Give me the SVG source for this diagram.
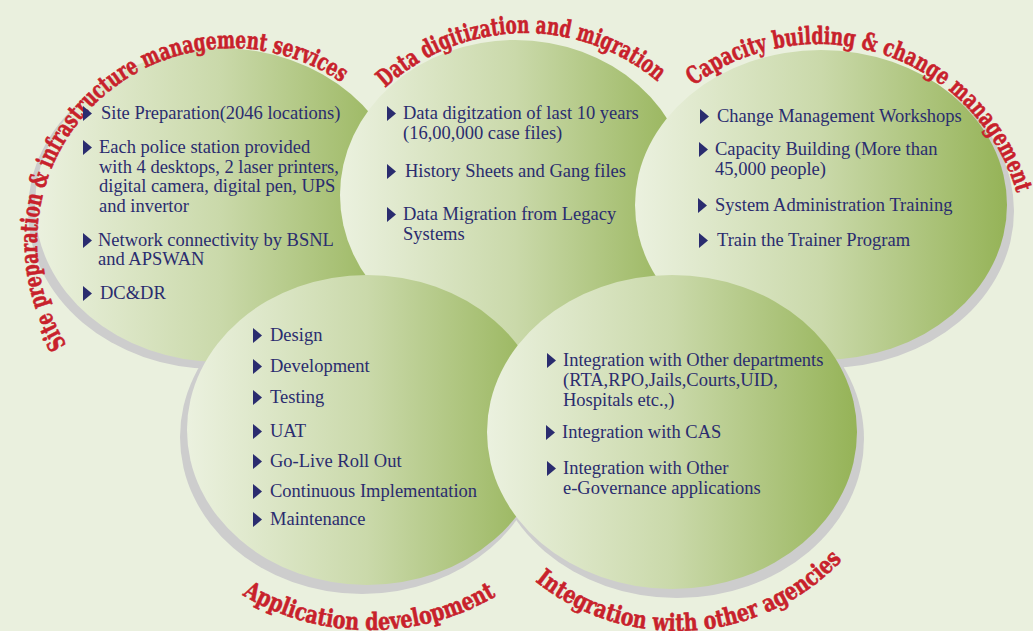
<svg xmlns="http://www.w3.org/2000/svg" width="1033" height="631" viewBox="0 0 1033 631">
<defs>
<linearGradient id="g" x1="0" y1="0" x2="1" y2="0">
<stop offset="0" stop-color="#ebf1df"/>
<stop offset="0.5" stop-color="#cad9aa"/>
<stop offset="1" stop-color="#95b357"/>
</linearGradient>
<path id="b" d="M0,0 L9,7.5 L0,15 Z"/>
<path id="p1" d="M66.5,344.8 A194,194 0 0 1 343.9,84.3"/>
<path id="p2" d="M385.2,88.1 A205,205 0 0 1 659.5,83.3"/>
<path id="p3" d="M693.4,85.7 A207,207 0 0 1 1017.4,195.3"/>
<path id="p4" d="M242.3,595 A250,250 0 0 0 497.7,595"/>
<path id="p5" d="M535.1,581.1 A227,227 0 0 0 843.4,558.6"/>
</defs>
<style>
.sh{fill:#cdcdcd}
.el{fill:url(#g)}
.t{font-family:"Liberation Serif","Times New Roman",serif;font-size:18.5px;fill:#2a2c6f}
.m{fill:#2a2c6f}
.h{font-family:"DejaVu Serif",serif;font-weight:bold;font-size:24px;fill:#c8212b;stroke:#c8212b;stroke-width:0.6}
</style>
<rect width="1033" height="631" fill="#eaf0de"/>
<g id="shadows">
<ellipse class="sh" cx="215" cy="211" rx="187" ry="158"/>
<ellipse class="sh" cx="515" cy="201" rx="176" ry="156"/>
<ellipse class="sh" cx="826" cy="211" rx="188" ry="157"/>
<ellipse class="sh" cx="362" cy="437" rx="182" ry="157"/>
<ellipse class="sh" cx="677" cy="439" rx="187" ry="159"/>
</g>
<g id="node-site">
<ellipse class="el" cx="220" cy="205" rx="185" ry="157"/>
<text class="h"><textPath href="#p1" textLength="530" lengthAdjust="spacingAndGlyphs">Site preparation &amp; infrastructure management services</textPath></text>
<use href="#b" class="m" x="83" y="106"/>
<use href="#b" class="m" x="83" y="140"/>
<use href="#b" class="m" x="83" y="233"/>
<use href="#b" class="m" x="83" y="286"/>
<text class="t" x="101" y="119">Site Preparation(2046 locations)</text>
<text class="t" x="99" y="153">Each police station provided</text>
<text class="t" x="99" y="173">with 4 desktops, 2 laser printers,</text>
<text class="t" x="99" y="192">digital camera, digital pen, UPS</text>
<text class="t" x="99" y="212">and invertor</text>
<text class="t" x="98" y="246">Network connectivity by BSNL</text>
<text class="t" x="98" y="265">and APSWAN</text>
<text class="t" x="100" y="299">DC&amp;DR</text>
</g>
<g id="node-data">
<ellipse class="el" cx="515" cy="195" rx="175" ry="155"/>
<text class="h"><textPath href="#p2" textLength="298" lengthAdjust="spacingAndGlyphs">Data digitization and migration</textPath></text>
<use href="#b" class="m" x="387" y="106"/>
<use href="#b" class="m" x="387" y="164"/>
<use href="#b" class="m" x="387" y="207"/>
<text class="t" x="403" y="119">Data digitzation of last 10 years</text>
<text class="t" x="403" y="139">(16,00,000 case files)</text>
<text class="t" x="405" y="177">History Sheets and Gang files</text>
<text class="t" x="403" y="220">Data Migration from Legacy</text>
<text class="t" x="403" y="240">Systems</text>
</g>
<g id="node-capacity">
<ellipse class="el" cx="821" cy="205" rx="186" ry="155"/>
<text class="h"><textPath href="#p3" textLength="400" lengthAdjust="spacingAndGlyphs">Capacity building &amp; change management</textPath></text>
<use href="#b" class="m" x="700" y="109"/>
<use href="#b" class="m" x="699" y="142"/>
<use href="#b" class="m" x="698" y="198"/>
<use href="#b" class="m" x="699" y="233"/>
<text class="t" x="717" y="122">Change Management Workshops</text>
<text class="t" x="715" y="155">Capacity Building (More than</text>
<text class="t" x="715" y="175">45,000 people)</text>
<text class="t" x="715" y="211">System Administration Training</text>
<text class="t" x="717" y="246">Train the Trainer Program</text>
</g>
<g id="node-application">
<ellipse class="el" cx="367" cy="430" rx="180" ry="155"/>
<text class="h"><textPath href="#p4" textLength="266" lengthAdjust="spacingAndGlyphs">Application development</textPath></text>
<use href="#b" class="m" x="253" y="328"/>
<use href="#b" class="m" x="253" y="359"/>
<use href="#b" class="m" x="253" y="390"/>
<use href="#b" class="m" x="253" y="424"/>
<use href="#b" class="m" x="253" y="454"/>
<use href="#b" class="m" x="253" y="484"/>
<use href="#b" class="m" x="253" y="512"/>
<text class="t" x="270" y="341">Design</text>
<text class="t" x="270" y="372">Development</text>
<text class="t" x="270" y="403">Testing</text>
<text class="t" x="270" y="437">UAT</text>
<text class="t" x="270" y="467">Go-Live Roll Out</text>
<text class="t" x="270" y="497">Continuous Implementation</text>
<text class="t" x="270" y="525">Maintenance</text>
</g>
<g id="node-integration">
<ellipse class="el" cx="672" cy="432" rx="185" ry="157"/>
<text class="h"><textPath href="#p5" textLength="338" lengthAdjust="spacingAndGlyphs">Integration with other agencies</textPath></text>
<use href="#b" class="m" x="547" y="353"/>
<use href="#b" class="m" x="546" y="425"/>
<use href="#b" class="m" x="547" y="461"/>
<text class="t" x="563" y="366">Integration with Other departments</text>
<text class="t" x="563" y="386">(RTA,RPO,Jails,Courts,UID,</text>
<text class="t" x="563" y="406">Hospitals etc.,)</text>
<text class="t" x="562" y="438">Integration with CAS</text>
<text class="t" x="563" y="474">Integration with Other</text>
<text class="t" x="563" y="494">e-Governance applications</text>
</g>
<g id="connectors"/>
</svg>
